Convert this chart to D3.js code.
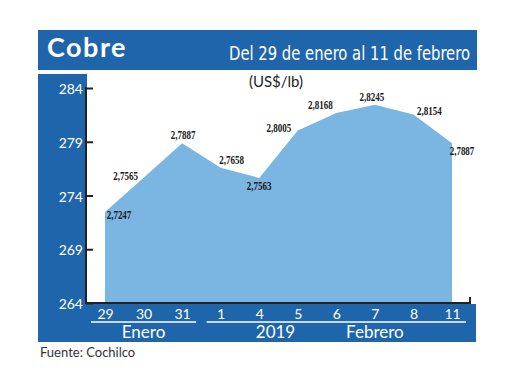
<!DOCTYPE html>
<html>
<head>
<meta charset="utf-8">
<script src="https://cdn.jsdelivr.net/npm/d3@7"></script>
<style>
  html, body { margin: 0; padding: 0; background: #ffffff; }
  svg { display: block; }
</style>
</head>
<body>
<svg id="chart" width="520" height="390"></svg>
<script>
// ---- data ----
const days = ["29", "30", "31", "1", "4", "5", "6", "7", "8", "11"];
const values = [272.47, 275.65, 278.87, 276.58, 275.63, 280.05, 281.68, 282.45, 281.54, 278.87];
const valueLabels = ["2,7247", "2,7565", "2,7887", "2,7658", "2,7563", "2,8005", "2,8168", "2,8245", "2,8154", "2,7887"];
const yTicks = [264, 269, 274, 279, 284];
const monthGroups = [
  { label: "Enero", from: "29", to: "31", center: "30" },
  { label: "Febrero", from: "1", to: "11", center: "7" }
];
const yearLabel = "2019";
const title = "Cobre";
const subtitle = "Del 29 de enero al 11 de febrero";
const unitLabel = "(US$/lb)";
const source = "Fuente: Cochilco";

// ---- label placement (layout only) ----
const labelOffsets = [[14, 7], [-18, 2], [1, -4], [11, -4], [0, 12], [-19, 2], [-16, -4], [-3, -4], [16, 1], [10, 12]];

const blue = "#1f65ab";
const areaColor = "#7bb5e2";
const ink = "#222222";

const svg = d3.select("#chart");

// title bar
svg.append("rect").attr("x", 38).attr("y", 30).attr("width", 439).attr("height", 40).attr("fill", blue);
svg.append("text").attr("x", 47).attr("y", 57)
  .attr("font-family", "Lato, 'Noto Sans', sans-serif").attr("font-weight", 700)
  .attr("font-size", 27).attr("letter-spacing", 1.5).attr("fill", "#fff").text(title);
svg.append("text").attr("x", 229).attr("y", 60)
  .attr("font-family", "'Liberation Sans Narrow', 'DejaVu Sans Condensed', sans-serif")
  .attr("font-size", 19).attr("fill", "#fff")
  .attr("textLength", 241).attr("lengthAdjust", "spacingAndGlyphs").text(subtitle);

// left panel + bottom band
svg.append("rect").attr("x", 38).attr("y", 74).attr("width", 49).attr("height", 268).attr("fill", blue);
svg.append("rect").attr("x", 38).attr("y", 304).attr("width", 438).attr("height", 38).attr("fill", blue);

// scales
const x = d3.scalePoint().domain(days).range([105, 452]);
const y = d3.scaleLinear().domain([264, 284]).range([303, 88]);

// area
const area = d3.area()
  .x((d, i) => x(days[i]))
  .y0(y(264))
  .y1(d => y(d));
svg.append("path").datum(values).attr("d", area).attr("fill", areaColor);

// y axis
const yAxis = d3.axisRight(y).tickValues(yTicks).tickSize(7).tickFormat("");
const gy = svg.append("g").attr("transform", "translate(86,0)").call(yAxis);
gy.select(".domain").remove();
gy.selectAll(".tick line").attr("stroke", ink).attr("stroke-width", 2);
svg.append("line").attr("x1", 86).attr("x2", 86).attr("y1", y(284) - 1).attr("y2", y(264) + 1)
  .attr("stroke", ink).attr("stroke-width", 2);
svg.selectAll(".ylab").data(yTicks).enter().append("text")
  .attr("x", 83).attr("y", d => y(d) + 6).attr("text-anchor", "end")
  .attr("font-family", "Lato, 'Noto Sans', sans-serif").attr("font-size", 14)
  .attr("fill", "#fff").text(d => d);

// bottom baseline
svg.append("line").attr("x1", 85).attr("x2", 471).attr("y1", y(264)).attr("y2", y(264))
  .attr("stroke", ink).attr("stroke-width", 2);
svg.append("line").attr("x1", 470).attr("x2", 470).attr("y1", y(264) - 6).attr("y2", y(264) + 1)
  .attr("stroke", ink).attr("stroke-width", 2);

// x tick labels
const xAxis = d3.axisBottom(x).tickSize(0).tickPadding(0);
const gx = svg.append("g").attr("transform", "translate(0,304)").call(xAxis);
gx.select(".domain").remove();
gx.selectAll(".tick text").attr("y", 15).attr("dy", 0)
  .attr("font-family", "Lato, 'Noto Sans', sans-serif").attr("font-size", 14).attr("fill", "#fff");

// month underline + labels
monthGroups.forEach(g => {
  svg.append("line").attr("x1", x(g.from) - 14).attr("x2", x(g.to) + 14)
    .attr("y1", 322).attr("y2", 322).attr("stroke", "#fff").attr("stroke-width", 1.5);
  svg.append("text").attr("x", x(g.center)).attr("y", 338).attr("text-anchor", "middle")
    .attr("font-family", "Lato, 'Noto Sans', sans-serif").attr("font-size", 17)
    .attr("fill", "#fff").text(g.label);
});
svg.append("text").attr("x", (x("4") + x("5")) / 2 - 3).attr("y", 338).attr("text-anchor", "middle")
  .attr("font-family", "Lato, 'Noto Sans', sans-serif").attr("font-size", 17)
  .attr("fill", "#fff").text(yearLabel);

// unit
svg.append("text").attr("x", 276).attr("y", 87).attr("text-anchor", "middle")
  .attr("font-family", "Lato, 'Noto Sans', sans-serif").attr("font-size", 15)
  .attr("fill", ink).text(unitLabel);

// value labels
svg.selectAll(".vlab").data(values).enter().append("g")
  .attr("transform", (d, i) => `translate(${x(days[i]) + labelOffsets[i][0]},${y(d) + labelOffsets[i][1]}) scale(0.72,1)`)
  .append("text").attr("text-anchor", "middle")
  .attr("font-family", "'Liberation Serif', serif").attr("font-size", 12.5).attr("font-weight", 700)
  .attr("fill", "#1a1a1a").text((d, i) => valueLabels[i]);

// source
svg.append("text").attr("x", 40).attr("y", 357)
  .attr("font-family", "Lato, 'Noto Sans', sans-serif").attr("font-size", 13)
  .attr("fill", "#333").text(source);
</script>
</body>
</html>
